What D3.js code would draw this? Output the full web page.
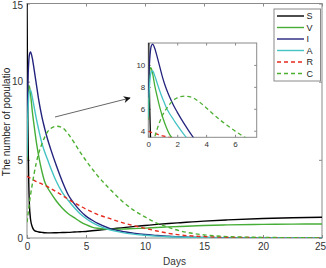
<!DOCTYPE html>
<html><head><meta charset="utf-8">
<script src="https://cdn.jsdelivr.net/npm/d3@7"></script>
<style>
html,body{margin:0;padding:0;background:#fff;}
svg{display:block;font-family:"Liberation Sans",Arial,sans-serif;}
</style></head>
<body>
<svg id="c" width="326" height="268"></svg>
<script>
const days = [0,0.05,0.1,0.15,0.2,0.3,0.45,0.6,0.8,1,1.25,1.5,1.75,2,2.5,3,3.5,4,4.5,5,5.5,6,7,8,9,10,11,12,13,14,15,17,20,22.5,25];
const S = [15,10,6,3.5,2.2,1.2,0.7,0.5,0.42,0.38,0.36,0.34,0.33,0.33,0.34,0.35,0.36,0.38,0.4,0.42,0.46,0.5,0.57,0.65,0.73,0.8,0.87,0.93,0.98,1.03,1.08,1.16,1.25,1.3,1.33];
const V = [5,8.3,9.4,9.75,9.7,9.2,8.1,7.2,6.1,5.2,4.3,3.6,3.2,2.9,2.35,1.9,1.55,1.3,1.05,0.85,0.7,0.62,0.56,0.57,0.6,0.63,0.67,0.71,0.74,0.77,0.8,0.84,0.87,0.89,0.9];
const I = [7,9.2,10.5,11.3,11.7,11.9,11.5,10.8,9.8,8.8,7.8,7.0,6.3,5.7,4.6,3.6,2.75,2.2,1.75,1.4,1.15,0.93,0.62,0.43,0.31,0.22,0.16,0.11,0.08,0.05,0.04,0.02,0.01,0,0];
const A = [5.2,7.3,8.4,9.1,9.35,9.45,9.0,8.4,7.6,6.9,6.1,5.5,5.0,4.5,3.6,2.9,2.4,1.95,1.55,1.25,1.0,0.8,0.52,0.36,0.25,0.18,0.12,0.08,0.06,0.04,0.03,0.01,0.01,0,0];
const R = [3.95,3.93,3.9,3.88,3.86,3.82,3.75,3.68,3.6,3.54,3.46,3.38,3.28,3.17,2.95,2.72,2.48,2.25,2.05,1.85,1.67,1.5,1.25,1.0,0.8,0.62,0.45,0.3,0.19,0.13,0.09,0.05,0.02,0.01,0.01];
const C = [1.0,1.3,1.6,1.9,2.2,2.75,3.45,4.1,4.85,5.45,6.0,6.45,6.8,7.0,7.15,7.05,6.65,6.1,5.5,4.95,4.45,3.97,3.15,2.4,1.8,1.35,0.95,0.68,0.45,0.3,0.2,0.09,0.04,0.02,0.01];
const seriesNames = ["S","V","I","A","R","C"];
const seriesData = [S,V,I,A,R,C];
const seriesColors = ["#000000","#46ae36","#23237e","#45c3c3","#e62a1e","#4caf30"];
const seriesDash = [null,null,null,null,"4,3","4,3"];
const xTicks = [0,5,10,15,20,25];
const yTicks = [0,5,10,15];
const insetXTicks = [0,2,4,6];
const insetYTicks = [4,6,8,10];
const xLabel = "Days";
const yLabel = "The number of populatio";

const svg = d3.select("#c");
const axisCol = "#8a8a8a", textCol = "#333";

// main
const L=27, Rr=322, T=3.5, B=238;
const x = d3.scaleLinear().domain([0,25]).range([L,Rr]);
const y = d3.scaleLinear().domain([0,15]).range([B,T]);

svg.append("defs").append("clipPath").attr("id","mclip").append("rect")
  .attr("x",L).attr("y",T).attr("width",Rr-L).attr("height",B-T);

function drawAxes(g, xs, ys, xt, yt, fs, tl, lblPadX, lblPadY){
  const [x0,x1]=xs.range(), [y0,y1]=ys.range();
  g.append("rect").attr("x",x0).attr("y",y1).attr("width",x1-x0).attr("height",y0-y1)
    .attr("fill","none").attr("stroke",axisCol).attr("stroke-width",1);
  const ax = d3.axisBottom(xs).tickValues(xt).tickSize(-tl).tickPadding(lblPadX);
  const gx = g.append("g").attr("transform",`translate(0,${y0})`).call(ax);
  const axT = d3.axisTop(xs).tickValues(xt).tickSize(-tl).tickFormat("");
  const gxt = g.append("g").attr("transform",`translate(0,${y1})`).call(axT);
  const ay = d3.axisLeft(ys).tickValues(yt).tickSize(-tl).tickPadding(lblPadY);
  const gy = g.append("g").attr("transform",`translate(${x0},0)`).call(ay);
  const ayR = d3.axisRight(ys).tickValues(yt).tickSize(-tl).tickFormat("");
  const gyr = g.append("g").attr("transform",`translate(${x1},0)`).call(ayR);
  [gx,gxt,gy,gyr].forEach(a=>{
    a.select(".domain").remove();
    a.selectAll("line").attr("stroke",axisCol);
    a.selectAll("text").attr("fill",textCol).style("font-size",fs+"px").style("font-family","'Liberation Sans',Arial,sans-serif");
  });
  return {gx, gy};
}

const gm = svg.append("g");
const ma = drawAxes(gm, x, y, xTicks, yTicks, 10, 3, 5, 4);
// keep edge labels inside the picture
ma.gx.selectAll(".tick text").filter(d=>d===xTicks[xTicks.length-1]).attr("dx","-2");
ma.gy.selectAll(".tick text").filter(d=>d===yTicks[yTicks.length-1]).attr("y",1.5);

const line = (xs,ys)=>d3.line().x((d,i)=>xs(days[i])).y(d=>ys(d)).curve(d3.curveMonotoneX);
const lm = svg.append("g").attr("clip-path","url(#mclip)");
seriesData.forEach((s,k)=>{
  lm.append("path").attr("d",line(x,y)(s)).attr("fill","none")
    .attr("stroke",seriesColors[k]).attr("stroke-width",1.4)
    .attr("stroke-dasharray",seriesDash[k]);
});

svg.append("text").attr("x",(L+Rr)/2).attr("y",265).attr("text-anchor","middle")
  .attr("fill",textCol).style("font-size","10px").text(xLabel);
svg.append("text").attr("transform","translate(10,122) rotate(-90)").attr("text-anchor","middle")
  .attr("fill","#222").style("font-size","10px").text(yLabel);

// arrow
svg.append("defs").append("marker").attr("id","ah").attr("viewBox","0 0 10 10")
  .attr("refX",9).attr("refY",5).attr("markerWidth",9).attr("markerHeight",7).attr("orient","auto")
  .attr("markerUnits","userSpaceOnUse")
  .append("path").attr("d","M0,0 L10,5 L0,10 L3,5 Z").attr("fill","#111");
svg.append("line").attr("x1",55).attr("y1",117).attr("x2",130).attr("y2",98)
  .attr("stroke","#555").attr("stroke-width",0.9).attr("marker-end","url(#ah)");

// inset
const ix = d3.scaleLinear().domain([0,7.5]).range([148.3,256.7]);
const iy = d3.scaleLinear().domain([3.4,12]).range([137.3,43]);
svg.append("rect").attr("x",148.3).attr("y",43).attr("width",108.4).attr("height",94.3).attr("fill","#fff");
svg.select("defs").append("clipPath").attr("id","iclip").append("rect")
  .attr("x",148.3).attr("y",43).attr("width",108.4).attr("height",94.3);
const gi = svg.append("g");
drawAxes(gi, ix, iy, insetXTicks, insetYTicks, 8, 2.5, 4, 3);
const li = svg.append("g").attr("clip-path","url(#iclip)");
seriesData.forEach((s,k)=>{
  li.append("path").attr("d",line(ix,iy)(s)).attr("fill","none")
    .attr("stroke",seriesColors[k]).attr("stroke-width",1.3)
    .attr("stroke-dasharray",seriesDash[k]);
});

// legend
const lg = svg.append("g");
lg.append("rect").attr("x",274).attr("y",9).attr("width",46.5).attr("height",72)
  .attr("fill","#fff").attr("stroke",axisCol).attr("stroke-width",1);
seriesNames.forEach((n,k)=>{
  const yy = 16 + k*11.5;
  lg.append("line").attr("x1",277).attr("x2",304).attr("y1",yy).attr("y2",yy)
    .attr("stroke",seriesColors[k]).attr("stroke-width",1.4).attr("stroke-dasharray",seriesDash[k]);
  lg.append("text").attr("x",306.5).attr("y",yy+3).attr("fill","#222")
    .style("font-size","9px").text(n);
});
</script>
</body></html>
